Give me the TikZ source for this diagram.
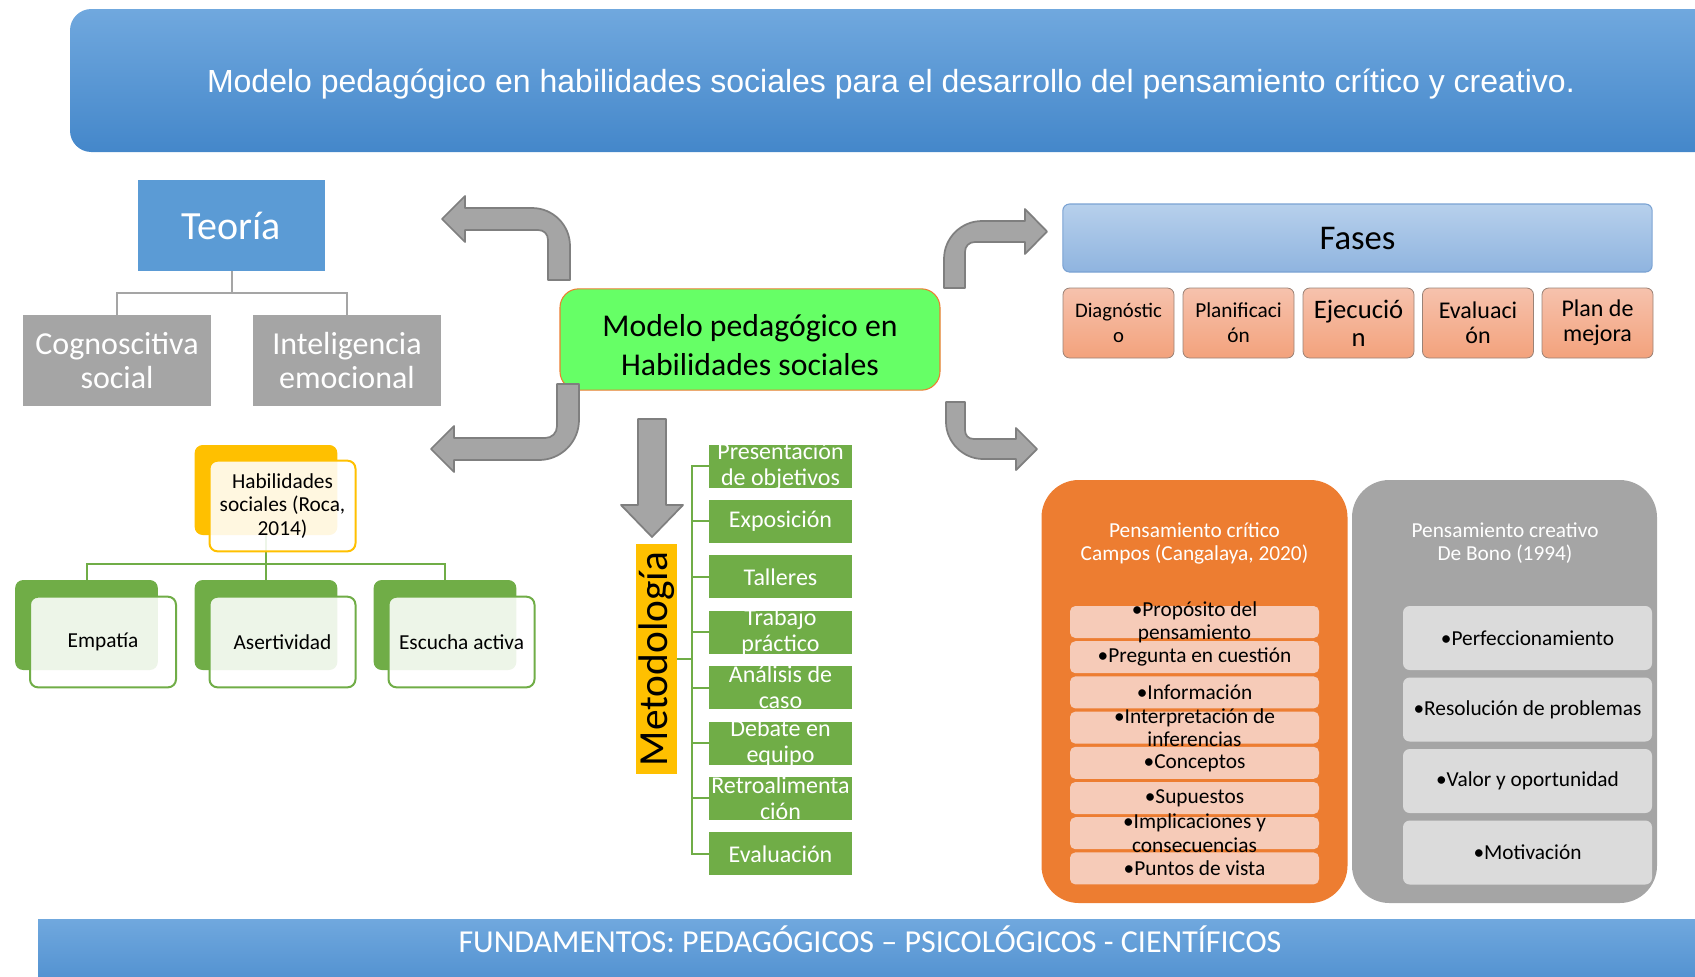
\documentclass[tikz,border=0pt]{standalone}
\usepackage{fontspec}
\setmainfont{Carlito}
\newfontfamily\arialfont{Liberation Sans}
\usepackage{graphicx}
\usepackage{tikz}

\definecolor{bannertop}{HTML}{70A8DE}
\definecolor{bannerbot}{HTML}{4487CA}
\definecolor{teoblue}{HTML}{5B9BD5}
\definecolor{boxgrey}{HTML}{A5A5A5}
\definecolor{arrowline}{HTML}{7F7F7F}
\definecolor{centrogreen}{HTML}{66FF66}
\definecolor{orangepanel}{HTML}{ED7D31}
\definecolor{fasestop}{HTML}{B7D0EC}
\definecolor{fasesbot}{HTML}{8FB4DF}
\definecolor{fasesline}{HTML}{7AA2D3}
\definecolor{fasetop}{HTML}{F6C2AD}
\definecolor{fasebot}{HTML}{F3A27C}
\definecolor{faseline}{HTML}{9A8276}
\definecolor{gold}{HTML}{FFC000}
\definecolor{leafgreen}{HTML}{70AD47}
\definecolor{crititem}{HTML}{F6CBB8}
\definecolor{creaitem}{HTML}{DBDBDB}

\begin{document}
\begin{tikzpicture}[x=0.75pt,y=0.75pt,yscale=-1,xscale=1,
  teobox/.style={fill=teoblue, text=white, inner sep=0pt, minimum width=140pt, minimum height=68pt, font=\fontsize{30}{34}\selectfont},
  greybox/.style={fill=boxgrey, text=white, inner sep=0pt, minimum width=141pt, minimum height=68pt, align=center, font=\fontsize{24}{26}\selectfont},
  greyline/.style={draw=boxgrey, line width=1.5pt},
  centrobox/.style={fill=centrogreen, draw=orangepanel, line width=0.8pt, rounded corners=14pt, inner sep=0pt, minimum width=285pt, minimum height=76pt},
  centrotext/.style={inner sep=0pt, align=center, font=\fontsize{23.8}{29}\selectfont},
  blockarrow/.style={fill=boxgrey, draw=arrowline, line width=1.3pt, line join=round},
  goldback/.style={fill=gold, rounded corners=6pt, minimum width=107pt, minimum height=67.5pt},
  goldfront/.style={fill=white, fill opacity=0.88, text opacity=1, draw=gold, line width=1.5pt, rounded corners=6pt, minimum width=109.5pt, minimum height=68pt, inner sep=0pt, align=center, font=\fontsize{16}{17.5}\selectfont},
  greenback/.style={fill=leafgreen, rounded corners=6pt, minimum width=107pt, minimum height=67.5pt},
  greenfront/.style={fill=white, fill opacity=0.88, text opacity=1, draw=leafgreen, line width=1.5pt, rounded corners=6pt, minimum width=109.5pt, minimum height=68pt, inner sep=0pt, font=\fontsize{16}{18}\selectfont},
  greenline/.style={draw=leafgreen, line width=1.5pt},
  metbox/.style={fill=gold, inner sep=0pt, minimum width=30.75pt, minimum height=172.5pt, font=\fontsize{31}{34}\selectfont},
  metitem/.style={fill=leafgreen, inner sep=0pt, minimum width=107.25pt, minimum height=32.25pt},
  mettext/.style={text=white, inner sep=0pt, align=center, font=\fontsize{18}{19.5}\selectfont},
  fasesbox/.style={top color=fasestop, bottom color=fasesbot, draw=fasesline, line width=0.8pt, rounded corners=5pt, minimum width=442pt, minimum height=51pt, inner sep=0pt, font=\fontsize{26}{30}\selectfont},
  fasebox/.style={top color=fasetop, bottom color=fasebot, draw=faseline, line width=0.6pt, rounded corners=5pt, minimum width=83.25pt, minimum height=52.5pt, inner sep=0pt, align=center},
  critpanel/.style={fill=orangepanel, rounded corners=28pt, minimum width=229.5pt, minimum height=317.25pt},
  creapanel/.style={fill=boxgrey, rounded corners=28pt, minimum width=228.75pt, minimum height=317.25pt},
  paneltitle/.style={text=white, inner sep=0pt, align=center, font=\fontsize{16}{17.25}\selectfont},
  crititem/.style={fill=crititem, rounded corners=4pt, minimum width=186.75pt, minimum height=24pt, inner sep=0pt},
  creaitem/.style={fill=creaitem, rounded corners=5pt, minimum width=186.75pt, minimum height=48pt, inner sep=0pt, font=\fontsize{16}{18}\selectfont},
  itemtext/.style={inner sep=0pt, align=center, font=\fontsize{16}{17.5}\selectfont}
]
\useasboundingbox (0,0) rectangle (1695,976);
\clip (0,0) rectangle (1695,976);

% Title banner
\shade[top color=bannertop, bottom color=bannerbot, rounded corners=16pt] (70,9) rectangle (1740,152);
\node[text=white, font=\arialfont\fontsize{24}{28}\selectfont] (titulo) at (891,84) {Modelo pedagógico en habilidades sociales para el desarrollo del pensamiento crítico y creativo.};

% Teoría
\node[teobox] (teo) at (231.5,225.5) {Teoría};
\node[greybox] (cog) at (117,360.5) {Cognoscitiva\\social};
\node[greybox] (intel) at (347,360.5) {Inteligencia\\emocional};
\draw[greyline] (teo.south) -- ++(0,22) -| (cog.north);
\draw[greyline] (teo.south) -- ++(0,22) -| (intel.north);

% Central box
\node[centrobox] (modelo) at (750,339.5) {};
\node[centrotext] (modelotxt) at (750,345) {Modelo pedagógico en\\Habilidades sociales};

% Bent arrows
\draw[blockarrow] (570,280) -- (570,246) .. controls (570,225) and (553,208) .. (532,208) -- (465,208) -- (465,196) -- (442,219) -- (465,242) -- (465,230) -- (538,230) .. controls (544,230) and (548,234) .. (548,240) -- (548,280) -- cycle;
\draw[blockarrow] (557,384) -- (579,384) -- (579,420) .. controls (579,442) and (561,460) .. (539,460) -- (454,460) -- (454,472) -- (431,449) -- (454,426) -- (454,438) -- (545,438) .. controls (552,438) and (557,433) .. (557,426) -- cycle;
\draw[blockarrow] (944,288) -- (944,259) .. controls (944,238) and (961,221) .. (982,221) -- (1025,221) -- (1025,209) -- (1047,231.5) -- (1025,254) -- (1025,242) -- (975,242) .. controls (969,242) and (965,246) .. (965,252) -- (965,288) -- cycle;
\draw[blockarrow] (946,402) -- (965,402) -- (965,430) .. controls (965,435) and (968,439) .. (974,439) -- (1016,439) -- (1016,428) -- (1037,449) -- (1016,470) -- (1016,459) -- (983,459) .. controls (963,459) and (946,442) .. (946,422) -- cycle;
\draw[blockarrow] (638,419) -- (666,419) -- (666,505) -- (683,505) -- (652,537) -- (621,505) -- (638,505) -- cycle;

% Habilidades sociales
\node[goldback] (hsb) at (266,490) {};
\node[greenback] (empb) at (86.5,625) {};
\node[greenback] (aseb) at (266,625) {};
\node[greenback] (escb) at (445,625) {};
\draw[greenline] (hsb.south) -- ++(0,29) -| (empb.north);
\draw[greenline] (hsb.south) -- ++(0,29) -| (aseb.north);
\draw[greenline] (hsb.south) -- ++(0,29) -| (escb.north);
\node[goldfront] (hs) at (282.5,506) {Habilidades\\sociales (Roca,\\2014)};
\node[greenfront] (emp) at (103,642) {Empatía};
\node[greenfront] (ase) at (282.5,642) {Asertividad};
\node[greenfront] (esc) at (461.5,642) {Escucha activa};

% Metodología
\node[metbox] (met) at (656.5,659) {\rotatebox{90}{Metodología}};
\node[metitem] (m1) at (780.5,466) {};
\node[metitem] (m2) at (780.5,521.4) {};
\node[metitem] (m3) at (780.5,576.8) {};
\node[metitem] (m4) at (780.5,632.2) {};
\node[metitem] (m5) at (780.5,687.6) {};
\node[metitem] (m6) at (780.5,743) {};
\node[metitem] (m7) at (780.5,798.4) {};
\node[metitem] (m8) at (780.5,853.8) {};
\node[mettext] at (m1) {Presentación\\de objetivos};
\node[mettext] at (m2) {Exposición};
\node[mettext] at (m3) {Talleres};
\node[mettext] at (m4) {Trabajo\\práctico};
\node[mettext] at (m5) {Análisis de\\caso};
\node[mettext] at (m6) {Debate en\\equipo};
\node[mettext] at (m7) {Retroalimenta\\ción};
\node[mettext] at (m8) {Evaluación};
\draw[greenline] (met.east) -- ++(15,0) |- (m1.west);
\draw[greenline] (met.east) -- ++(15,0) |- (m2.west);
\draw[greenline] (met.east) -- ++(15,0) |- (m3.west);
\draw[greenline] (met.east) -- ++(15,0) |- (m4.west);
\draw[greenline] (met.east) -- ++(15,0) |- (m5.west);
\draw[greenline] (met.east) -- ++(15,0) |- (m6.west);
\draw[greenline] (met.east) -- ++(15,0) |- (m7.west);
\draw[greenline] (met.east) -- ++(15,0) |- (m8.west);

% Fases
\node[fasesbox] (fases) at (1357.5,238) {Fases};
\node[fasebox, font=\fontsize{15.5}{18.6}\selectfont] (f1) at (1118.5,323) {Diagnóstic\\o};
\node[fasebox, font=\fontsize{16}{18.6}\selectfont] (f2) at (1238.5,323) {Planificaci\\ón};
\node[fasebox, font=\fontsize{20}{21}\selectfont] (f3) at (1358.5,323) {Ejecució\\n};
\node[fasebox, font=\fontsize{18}{18.6}\selectfont] (f4) at (1478,323) {Evaluaci\\ón};
\node[fasebox, font=\fontsize{18}{18.6}\selectfont] (f5) at (1597.5,323) {Plan de\\mejora};

% Pensamiento crítico
\node[critpanel] (crit) at (1194.5,691.5) {};
\node[paneltitle] (crittit) at (1194.5,543.5) {Pensamiento crítico\\Campos (Cangalaya, 2020)};
\node[crititem] (c1) at (1194.5,622) {};
\node[crititem] (c2) at (1194.5,657.2) {};
\node[crititem] (c3) at (1194.5,692.4) {};
\node[crititem] (c4) at (1194.5,727.6) {};
\node[crititem] (c5) at (1194.5,762.8) {};
\node[crititem] (c6) at (1194.5,798) {};
\node[crititem] (c7) at (1194.5,833.2) {};
\node[crititem] (c8) at (1194.5,868.4) {};
\node[itemtext] at (c1) {•Propósito del\\pensamiento};
\node[itemtext] at (c2) {•Pregunta en cuestión};
\node[itemtext] at (c3) {•Información};
\node[itemtext] at (c4) {•Interpretación de\\inferencias};
\node[itemtext] at (c5) {•Conceptos};
\node[itemtext] at (c6) {•Supuestos};
\node[itemtext] at (c7) {•Implicaciones y\\consecuencias};
\node[itemtext] at (c8) {•Puntos de vista};

% Pensamiento creativo
\node[creapanel] (crea) at (1504.5,691.5) {};
\node[paneltitle] (creatit) at (1505,543.5) {Pensamiento creativo\\De Bono (1994)};
\node[creaitem] (k1) at (1527.5,638) {•Perfeccionamiento};
\node[creaitem] (k2) at (1527.5,709.5) {•Resolución de problemas};
\node[creaitem] (k3) at (1527.5,781) {•Valor y oportunidad};
\node[creaitem] (k4) at (1527.5,852.5) {•Motivación};

% Footer
\shade[top color=bannertop, bottom color=bannerbot] (38,919) rectangle (1740,1010);
\node[text=white, font=\fontsize{24}{27}\selectfont] (fund) at (870,939) {FUNDAMENTOS: PEDAGÓGICOS – PSICOLÓGICOS - CIENTÍFICOS};

\end{tikzpicture}
\end{document}
